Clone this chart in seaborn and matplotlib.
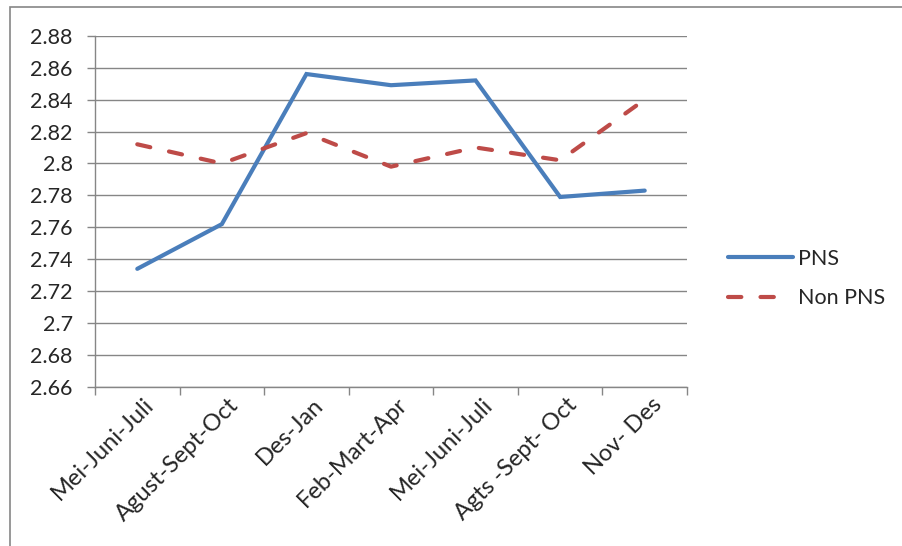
import numpy as np
import pandas as pd
import seaborn as sns
import matplotlib.pyplot as plt
import matplotlib.transforms as mtransforms
from matplotlib.patches import Rectangle
from matplotlib.ticker import FixedLocator, FuncFormatter

periods = ["Mei-Juni-Juli", "Agust-Sept-Oct", "Des-Jan", "Feb-Mart-Apr",
           "Mei-Juni-Juli", "Agts -Sept- Oct", "Nov- Des"]
pns = [2.734, 2.762, 2.856, 2.849, 2.852, 2.779, 2.783]
non_pns = [2.812, 2.800, 2.819, 2.798, 2.810, 2.802, 2.840]

pos = np.arange(len(periods))
df = pd.concat([
    pd.DataFrame({"pos": pos, "value": pns, "group": "PNS"}),
    pd.DataFrame({"pos": pos, "value": non_pns, "group": "Non PNS"}),
])

sns.set_style("white")
plt.rcParams["font.family"] = ["Lato", "DejaVu Sans"]

fig = plt.figure(figsize=(9.03, 5.46), dpi=100)
ax = fig.add_axes([0.1052, 0.2912, 0.6556, 0.6434])

gray = "#868686"
sns.lineplot(data=df, x="pos", y="value", hue="group", style="group",
             palette={"PNS": "#4a7ebb", "Non PNS": "#be4b48"},
             dashes={"PNS": "", "Non PNS": (3.2, 4.6)},
             linewidth=3, ax=ax, sort=False, legend=False)
for line in ax.get_lines():
    line.set_solid_capstyle("round")
    line.set_dash_capstyle("round")
    line.set_solid_joinstyle("miter")

ax.set_xlim(-0.5, len(periods) - 0.5)
ax.set_ylim(2.66, 2.88)
ax.set_yticks(np.arange(2.66, 2.8801, 0.02))
ax.yaxis.set_major_formatter(FuncFormatter(lambda v, p: f"{v:.2f}".rstrip("0").rstrip(".")))
ax.grid(axis="y", color=gray, linewidth=1)
ax.set_axisbelow(True)

ax.set_xticks(pos)
ax.set_xticklabels(periods, rotation=45, ha="right", va="top", rotation_mode="anchor")
ax.xaxis.set_minor_locator(FixedLocator(np.arange(-0.5, len(periods), 1)))
ax.tick_params(axis="x", which="major", length=0, pad=5, labelsize=17)
ax.tick_params(axis="x", which="minor", length=6, color=gray, width=1, direction="out")
ax.tick_params(axis="y", length=6, color=gray, width=1, direction="out", labelsize=15.5, pad=10)
ax.yaxis.set_ticks_position("left")
ax.xaxis.set_ticks_position("bottom")

# push the rotated labels a bit to the right, like the original
offset = mtransforms.ScaledTranslation(6 / 100, 0, fig.dpi_scale_trans)
for lab in ax.get_xticklabels():
    lab.set_transform(lab.get_transform() + offset)

for side in ["top", "right"]:
    ax.spines[side].set_visible(False)
for side in ["left", "bottom"]:
    ax.spines[side].set_color(gray)
    ax.spines[side].set_linewidth(1)

ax.set_xlabel("")
ax.set_ylabel("")
lines = ax.get_lines()
ax.legend(handles=lines[:2], labels=["PNS", "Non PNS"],
          loc="center left", bbox_to_anchor=(0.785, 0.49), bbox_transform=fig.transFigure,
          frameon=False, fontsize=15.5, handlelength=3.0, handletextpad=0.25, labelspacing=0.9)

fig.patches.append(Rectangle((10 / 903, -0.1), 1.1, 1 - 7 / 546 + 0.1, transform=fig.transFigure,
                             fill=False, edgecolor=gray, linewidth=1.2))

fig.savefig("out.png", dpi=100)
